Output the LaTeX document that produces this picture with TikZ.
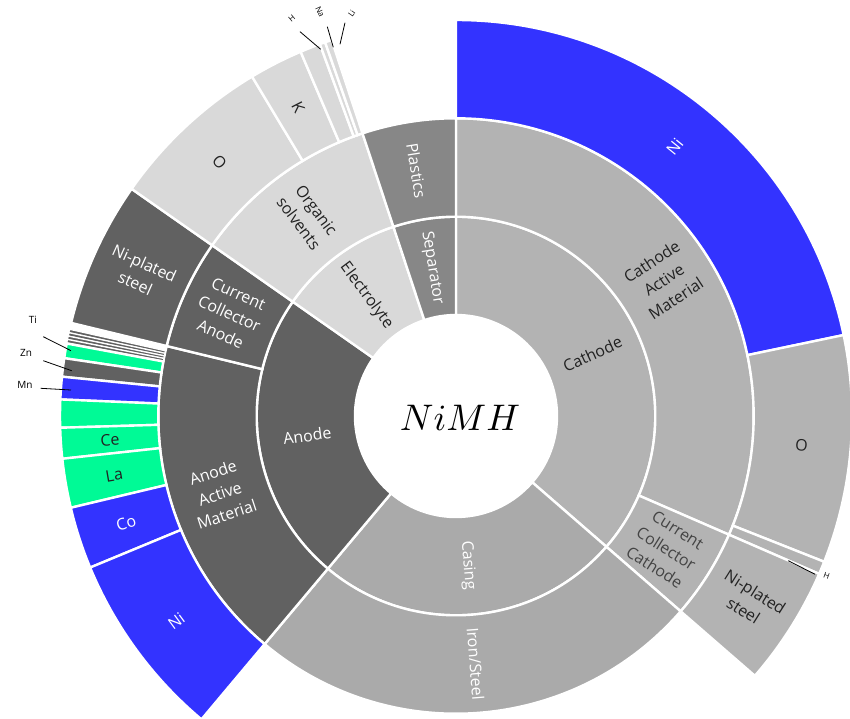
\documentclass[tikz,border=0pt]{standalone}
\usepackage{fontspec}
\setmainfont{Open Sans}
\definecolor{cat}{HTML}{B3B3B3}
\definecolor{cas}{HTML}{AAAAAA}
\definecolor{ano}{HTML}{616161}
\definecolor{ele}{HTML}{D9D9D9}
\definecolor{sep}{HTML}{878787}
\definecolor{blu}{HTML}{3333FF}
\definecolor{grn}{HTML}{00FA96}
\definecolor{txt}{HTML}{222222}
\definecolor{txtg}{HTML}{444444}
% #1 border width, #2 start angle, #3 end angle, #4 inner r, #5 outer r, #6 colour
\newcommand{\wedgeA}[6][2.4pt]{\filldraw[fill=#6,draw=white,line width=#1,line join=miter] (#2:#4pt) arc[start angle=#2,end angle=#3,radius=#4pt] -- (#3:#5pt) arc[start angle=#3,end angle=#2,radius=#5pt] -- cycle;}
\begin{document}
\begin{tikzpicture}[x=1pt,y=1pt,
  lbl/.style={font=\fontsize{16}{22}\selectfont,align=center,inner sep=0pt},
  tinylbl/.style={font=\fontsize{8}{9}\selectfont,inner sep=0pt,text=black},
  smalllbl/.style={font=\fontsize{10}{11}\selectfont,inner sep=0pt,text=black},
  lead/.style={black,line width=0.8pt}]
\useasboundingbox (-456,-302) rectangle (394,416);
% ring 1
\wedgeA{-41}{90}{101}{199.3}{cat}
\wedgeA{-130}{-41}{101}{199.3}{cas}
\wedgeA{145}{230}{101}{199.3}{ano}
\wedgeA{108.3}{145}{101}{199.3}{ele}
\wedgeA{90}{108.3}{101}{199.3}{sep}
% ring 2
\wedgeA{-23.5}{90}{199.3}{297.7}{cat}
\wedgeA{-41}{-23.5}{199.3}{297.7}{cat}
\wedgeA{-130}{-41}{199.3}{297.7}{cas}
\wedgeA{166.4}{230}{199.3}{297.7}{ano}
\wedgeA{145}{166.4}{199.3}{297.7}{ano}
\wedgeA{108.3}{145}{199.3}{297.7}{ele}
\wedgeA{90}{108.3}{199.3}{297.7}{sep}
% ring 3 cathode
\wedgeA{11.8}{90}{297.7}{396}{blu}
\wedgeA{-21.6}{11.8}{297.7}{396}{cat}
\wedgeA{-23.5}{-21.6}{297.7}{396}{cat}
\wedgeA{-41}{-23.5}{297.7}{396}{cat}
% ring 3 anode
\wedgeA{145}{166.4}{297.7}{396}{ano}
\wedgeA[1.3pt]{167.35}{167.85}{297.7}{396}{ano}
\wedgeA[1.3pt]{167.85}{168.35}{297.7}{396}{ano}
\wedgeA[1.3pt]{168.35}{168.85}{297.7}{396}{ano}
\wedgeA[1.3pt]{168.85}{169.35}{297.7}{396}{ano}
\wedgeA{169.45}{171.6}{297.7}{396}{grn}
\wedgeA{171.6}{174.3}{297.7}{396}{ano}
\wedgeA{174.3}{177.6}{297.7}{396}{blu}
\wedgeA{177.6}{181.7}{297.7}{396}{grn}
\wedgeA{181.7}{186.2}{297.7}{396}{grn}
\wedgeA{186.2}{193.4}{297.7}{396}{grn}
\wedgeA{193.4}{202.5}{297.7}{396}{blu}
\wedgeA{202.5}{230}{297.7}{396}{blu}
% ring 3 electrolyte
\wedgeA{121}{145}{297.7}{396}{ele}
\wedgeA{113.1}{121}{297.7}{396}{ele}
\wedgeA{110.1}{113.1}{297.7}{396}{ele}
\wedgeA{109.3}{110.1}{297.7}{396}{ele}
\wedgeA{108.3}{109.3}{297.7}{396}{ele}
% centre
\node[inner sep=0pt,scale=3.7] (title) at (4,-2) {$NiMH$};
% ring 1 labels
\node[lbl,text=txt,rotate=24.5] (lcathode) at (24.5:150) {Cathode};
\node[lbl,text=white,rotate=-85.5] (lcasing) at (-85.5:150) {Casing};
\node[lbl,text=white,rotate=7.5] (lanode) at (187.5:150) {Anode};
\node[lbl,text=txt,rotate=-53.35] (lelec) at (126.65:150) {Electrolyte};
\node[lbl,text=white,rotate=-80.85] (lsep) at (99.15:150) {Separator};
% ring 2 labels
\node[lbl,text=txt,rotate=33.25] (lcam) at (33.25:248.5) {Cathode\\Active\\Material};
\node[lbl,text=txtg,rotate=-32.25] (lccc) at (-32.25:248.5) {Current\\Collector\\Cathode};
\node[lbl,text=white,rotate=-85.5] (liron) at (-85.5:248.5) {Iron/Steel};
\node[lbl,text=white,rotate=18.2] (laam) at (198.2:248.5) {Anode\\Active\\Material};
\node[lbl,text=white,rotate=-24.3] (lcca) at (155.7:248.5) {Current\\Collector\\Anode};
\node[lbl,text=txt,rotate=-53.35] (lorg) at (126.65:248.5) {Organic\\solvents};
\node[lbl,text=white,rotate=-80.85] (lplast) at (99.15:248.5) {Plastics};
% ring 3 labels
\node[lbl,text=white,rotate=50.9] (lnic) at (50.9:346.85) {Ni};
\node[lbl,text=txt,rotate=-4.9] (loc) at (-4.9:346.85) {O};
\node[lbl,text=txt,rotate=-32.25] (lnpc) at (-32.25:346.85) {Ni-plated\\steel};
\node[lbl,text=white,rotate=-24.3] (lnpa) at (155.7:346.85) {Ni-plated\\steel};
\node[lbl,text=txt,rotate=3.95] (lce) at (183.95:346.85) {Ce};
\node[lbl,text=txt,rotate=9.8] (lla) at (189.8:346.85) {La};
\node[lbl,text=white,rotate=17.95] (lco) at (197.95:346.85) {Co};
\node[lbl,text=white,rotate=36.25] (lnia) at (216.25:346.85) {Ni};
\node[lbl,text=txt,rotate=-47] (loe) at (133:346.85) {O};
\node[lbl,text=txt,rotate=-62.95] (lk) at (117.05:346.85) {K};
% outside labels with leaders
\node[tinylbl,rotate=40] (lh) at (-164.3,397.7) {H};
\coordinate (hA) at (-156,384.3); \coordinate (hB) at (-135.3,366.7);
\draw[lead] (hA) -- (hB);
\node[tinylbl,rotate=-65] (lna) at (-136,404.3) {Na};
\coordinate (naA) at (-128.7,389.3); \coordinate (naB) at (-122.7,368.7);
\draw[lead] (naA) -- (naB);
\node[tinylbl,rotate=55] (lli) at (-104.3,402.7) {Li};
\coordinate (liA) at (-111,393.3); \coordinate (liB) at (-116,371.7);
\draw[lead] (liA) -- (liB);
\node[tinylbl,rotate=-20] (lhc) at (370.7,-160) {H};
\coordinate (hcA) at (332.3,-144.7); \coordinate (hcB) at (359,-158.3);
\draw[lead] (hcA) -- (hcB);
\node[smalllbl] (lti) at (-423,96) {Ti};
\coordinate (tiA) at (-412.7,79.3); \coordinate (tiB) at (-385,65.3);
\draw[lead] (tiA) -- (tiB);
\node[smalllbl] (lzn) at (-430,63) {Zn};
\coordinate (znA) at (-412.7,55.3); \coordinate (znB) at (-384.3,45.3);
\draw[lead] (znA) -- (znB);
\node[smalllbl] (lmn) at (-431,31) {Mn};
\coordinate (mnA) at (-415.3,27.7); \coordinate (mnB) at (-385,26);
\draw[lead] (mnA) -- (mnB);
\end{tikzpicture}
\end{document}
